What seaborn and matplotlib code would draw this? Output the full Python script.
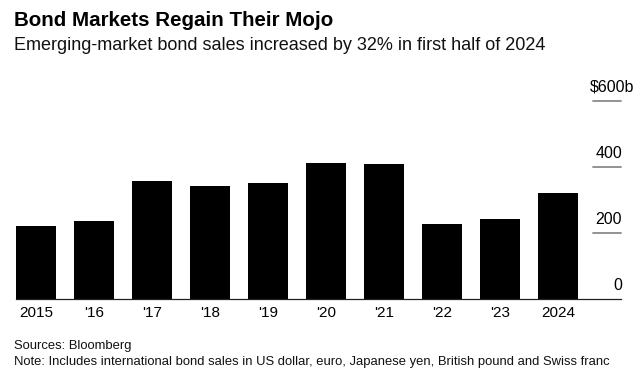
import matplotlib
matplotlib.use('Agg')
import matplotlib.pyplot as plt
import matplotlib.transforms as mtransforms
import seaborn as sns
import pandas as pd

# 数据（从图上读取，单位：十亿美元）
years = ['2015', "'16", "'17", "'18", "'19", "'20", "'21", "'22", "'23", '2024']
sales = [220, 236, 358, 343, 352, 412, 410, 228, 243, 322]
y_ticks = [0, 200, 400, 600]
y_tick_labels = ['0', '200', '400', '$600b']

title = 'Bond Markets Regain Their Mojo'
subtitle = 'Emerging-market bond sales increased by 32% in first half of 2024'
source = 'Sources: Bloomberg'
note = 'Note: Includes international bond sales in US dollar, euro, Japanese yen, British pound and Swiss franc'

sns.set_theme(style='white')
plt.rcParams['font.family'] = ['Liberation Sans', 'DejaVu Sans']

df = pd.DataFrame({'year': years, 'sales': sales})

fig = plt.figure(figsize=(6.4, 3.82), dpi=100)
ax = fig.add_axes([16 / 640, 1 - 299 / 382, 605 / 640, 198 / 382])

sns.barplot(data=df, x='year', y='sales', color='black', width=0.69,
            saturation=1, ax=ax)
for p in ax.patches:
    p.set_edgecolor('none')

ax.set_xlim(-0.35, 10.087)
ax.set_ylim(0, 600)
ax.set_xlabel('')
ax.set_ylabel('')
ax.set_yticks([])
for s in ['top', 'right', 'left']:
    ax.spines[s].set_visible(False)
ax.spines['bottom'].set_color('#222222')
ax.spines['bottom'].set_linewidth(0.9)
ax.tick_params(axis='x', length=0, pad=5, labelsize=11, labelcolor='black')

# 右侧短网格线和数值标签
trans = mtransforms.blended_transform_factory(ax.transAxes, ax.transData)
for v, lab in zip(y_ticks, y_tick_labels):
    if v > 0:
        ax.axhline(v, xmin=0.954, xmax=1.0, color='#8a8a8a', lw=1.3, clip_on=False)
    xpos = 1.0215 if lab.startswith('$') else 1.0017
    ax.annotate(lab, xy=(xpos, v), xycoords=trans, xytext=(0, 4.5),
                textcoords='offset points', ha='right', va='bottom',
                fontsize=11.5, color='black', annotation_clip=False)

fig.text(14 / 640, 1 - 20 / 382, title, fontsize=14.8, fontweight='bold',
         va='center', ha='left', color='black')
fig.text(14 / 640, 1 - 45 / 382, subtitle, fontsize=13,
         va='center', ha='left', color='#111111')
fig.text(14 / 640, 1 - 346.5 / 382, source, fontsize=9.4,
         va='center', ha='left', color='#111111')
fig.text(14 / 640, 1 - 362 / 382, note, fontsize=9.4,
         va='center', ha='left', color='#111111')

fig.savefig('out.png', dpi=100)
